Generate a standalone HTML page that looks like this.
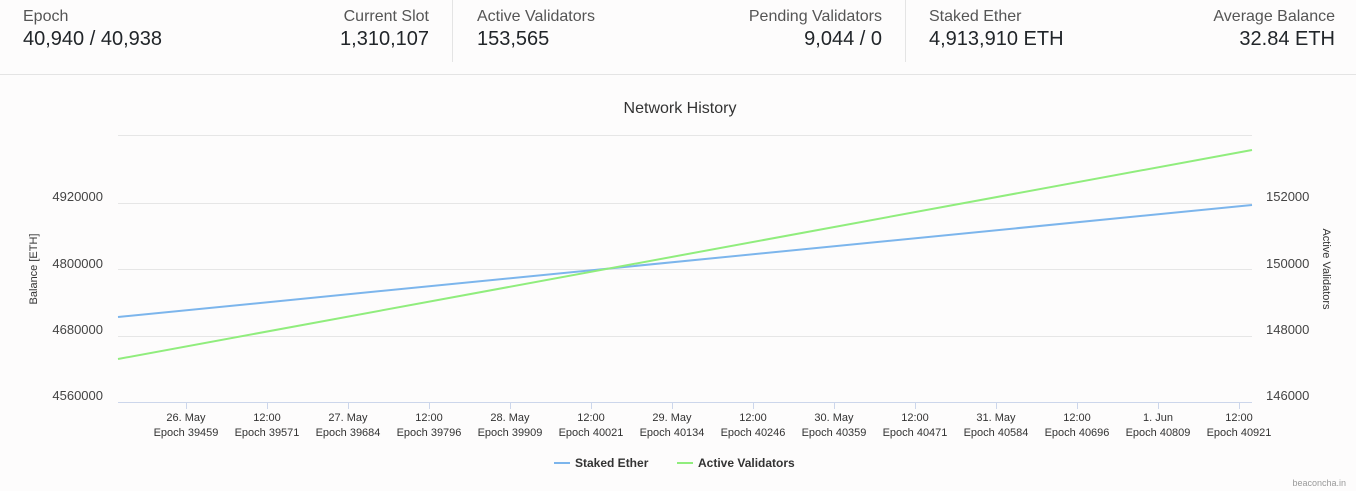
<!DOCTYPE html>
<html><head><meta charset="utf-8"><style>
body{margin:0;width:1356px;height:491px;background:#fdfcfc;font-family:"Liberation Sans",sans-serif;overflow:hidden;position:relative}
.hdr{position:absolute;left:0;top:0;width:1356px;height:74px;border-bottom:1px solid #e4e4e4}
.c{position:absolute;top:8px;color:#212529}
.l{font-size:16px;color:#555}
.v{font-size:20px;margin-top:2px}
.r{text-align:right}
.sep{position:absolute;top:0;width:1px;height:62px;background:#e4e4e4}
svg{position:absolute;left:0;top:0}
</style></head><body>
<div class="hdr">
<div class="c" style="left:23px"><div class="l">Epoch</div><div class="v">40,940 / 40,938</div></div>
<div class="c r" style="right:927px"><div class="l">Current Slot</div><div class="v">1,310,107</div></div>
<div class="sep" style="left:452px"></div>
<div class="c" style="left:477px"><div class="l">Active Validators</div><div class="v">153,565</div></div>
<div class="c r" style="right:474px"><div class="l">Pending Validators</div><div class="v">9,044 / 0</div></div>
<div class="sep" style="left:905px"></div>
<div class="c" style="left:929px"><div class="l">Staked Ether</div><div class="v">4,913,910 ETH</div></div>
<div class="c r" style="right:21px"><div class="l">Average Balance</div><div class="v">32.84 ETH</div></div>
</div>
<svg width="1356" height="491" font-family="Liberation Sans, sans-serif">
<text x="680" y="113" text-anchor="middle" font-size="16" fill="#333">Network History</text>
<g stroke="#e6e6e6" stroke-width="1">
<line x1="118" x2="1252" y1="135.5" y2="135.5"/><line x1="118" x2="1252" y1="203.5" y2="203.5"/>
<line x1="118" x2="1252" y1="269.5" y2="269.5"/><line x1="118" x2="1252" y1="336.5" y2="336.5"/>
</g>
<line x1="118" x2="1252" y1="402.5" y2="402.5" stroke="#ccd6eb"/>
<g stroke="#ccd6eb">
<line x1="186.5" x2="186.5" y1="402" y2="409"/><line x1="267.5" x2="267.5" y1="402" y2="409"/><line x1="348.5" x2="348.5" y1="402" y2="409"/><line x1="429.5" x2="429.5" y1="402" y2="409"/><line x1="510.5" x2="510.5" y1="402" y2="409"/><line x1="591.5" x2="591.5" y1="402" y2="409"/><line x1="672.5" x2="672.5" y1="402" y2="409"/><line x1="753.5" x2="753.5" y1="402" y2="409"/><line x1="834.5" x2="834.5" y1="402" y2="409"/><line x1="915.5" x2="915.5" y1="402" y2="409"/><line x1="996.5" x2="996.5" y1="402" y2="409"/><line x1="1077.5" x2="1077.5" y1="402" y2="409"/><line x1="1158.5" x2="1158.5" y1="402" y2="409"/><line x1="1239.5" x2="1239.5" y1="402" y2="409"/>
</g>
<g font-size="11" fill="#333" text-anchor="middle">
<text x="186" y="421">26. May</text><text x="186" y="436">Epoch 39459</text>
<text x="267" y="421">12:00</text><text x="267" y="436">Epoch 39571</text>
<text x="348" y="421">27. May</text><text x="348" y="436">Epoch 39684</text>
<text x="429" y="421">12:00</text><text x="429" y="436">Epoch 39796</text>
<text x="510" y="421">28. May</text><text x="510" y="436">Epoch 39909</text>
<text x="591" y="421">12:00</text><text x="591" y="436">Epoch 40021</text>
<text x="672" y="421">29. May</text><text x="672" y="436">Epoch 40134</text>
<text x="753" y="421">12:00</text><text x="753" y="436">Epoch 40246</text>
<text x="834" y="421">30. May</text><text x="834" y="436">Epoch 40359</text>
<text x="915" y="421">12:00</text><text x="915" y="436">Epoch 40471</text>
<text x="996" y="421">31. May</text><text x="996" y="436">Epoch 40584</text>
<text x="1077" y="421">12:00</text><text x="1077" y="436">Epoch 40696</text>
<text x="1158" y="421">1. Jun</text><text x="1158" y="436">Epoch 40809</text>
<text x="1239" y="421">12:00</text><text x="1239" y="436">Epoch 40921</text>
</g>
<g font-size="13" fill="#444" text-anchor="end">
<text x="103" y="201">4920000</text><text x="103" y="268">4800000</text><text x="103" y="334">4680000</text><text x="103" y="400">4560000</text>
</g>
<g font-size="13" fill="#444">
<text x="1266" y="201">152000</text><text x="1266" y="268">150000</text><text x="1266" y="334">148000</text><text x="1266" y="400">146000</text>
</g>
<text transform="translate(37,269) rotate(-90)" text-anchor="middle" font-size="11" fill="#333">Balance [ETH]</text>
<text transform="translate(1323,269) rotate(90)" text-anchor="middle" font-size="11" fill="#333">Active Validators</text>
<line x1="118" y1="317" x2="1252" y2="205" stroke="#7cb5ec" stroke-width="2"/>
<line x1="118" y1="359" x2="1252" y2="150" stroke="#90ed7d" stroke-width="2"/>
<line x1="554" y1="463" x2="570" y2="463" stroke="#7cb5ec" stroke-width="2"/>
<text x="575" y="467" font-size="12" font-weight="bold" fill="#333">Staked Ether</text>
<line x1="677" y1="463" x2="693" y2="463" stroke="#90ed7d" stroke-width="2"/>
<text x="698" y="467" font-size="12" font-weight="bold" fill="#333">Active Validators</text>
<text x="1346" y="486" text-anchor="end" font-size="9" fill="#999">beaconcha.in</text>
</svg>
</body></html>
